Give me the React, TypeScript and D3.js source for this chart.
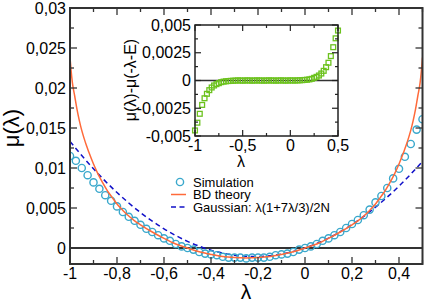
import * as d3 from "d3";

// simulation points (main panel)
const simLambda = [
  -1, -0.975, -0.95, -0.925, -0.9, -0.875, -0.85, -0.825, -0.8, -0.775,
  -0.75, -0.725, -0.7, -0.675, -0.65, -0.625, -0.6, -0.575, -0.55, -0.525,
  -0.5, -0.475, -0.45, -0.425, -0.4, -0.375, -0.35, -0.325, -0.3, -0.275,
  -0.25, -0.225, -0.2, -0.175, -0.15, -0.125, -0.1, -0.075, -0.05, -0.025,
  0, 0.025, 0.05, 0.075, 0.1, 0.125, 0.15, 0.175, 0.2, 0.225,
  0.25, 0.275, 0.3, 0.325, 0.35, 0.375, 0.4, 0.425, 0.45, 0.475, 0.5,
];
const simMu = [
  0.0115, 0.0109, 0.01, 0.0091, 0.0082, 0.0074, 0.0066, 0.0059, 0.0052, 0.0045,
  0.0039, 0.0034, 0.0029, 0.0024, 0.002, 0.0016, 0.0012, 0.0009, 0.0005, 0.0002,
  0.0, -0.0002, -0.0005, -0.0007, -0.0008, -0.0009, -0.0011, -0.0012, -0.0012, -0.0012,
  -0.0013, -0.0012, -0.0012, -0.0012, -0.0011, -0.0009, -0.0008, -0.0007, -0.0005, -0.0002,
  0.0, 0.0002, 0.0005, 0.0009, 0.0012, 0.0016, 0.002, 0.0025, 0.003, 0.0035,
  0.0041, 0.0048, 0.0057, 0.0065, 0.0075, 0.0087, 0.0099, 0.0114, 0.013, 0.0148, 0.0161,
];

// inset: mu(l) - mu(-l-E)
const diffMu = [
  -0.0045, -0.0038, -0.003, -0.0022, -0.0016, -0.0012, -0.00087, -0.00063, -0.00045, -0.00033,
  -0.00024, -0.00015, -0.0001, -0.00007, -0.00005, -0.00003, -0.00002, -0.00001, 0.00001, 0,
  -0.00001, 0, 0.00001, 0, -0.00001, 0, 0.00001, 0, 0, -0.00001,
  0, 0.00001, 0, 0, -0.00001, 0, 0.00001, 0, -0.00001, 0,
  0.00001, 0, 0, 0.00001, 0.00002, 0.00003, 0.00005, 0.00007, 0.0001, 0.00015,
  0.00024, 0.00033, 0.00045, 0.00063, 0.00087, 0.0012, 0.0016, 0.0022, 0.003, 0.0038, 0.0045,
];

// BD theory curve
const bdLambda = [
  -1, -0.995, -0.99, -0.98, -0.97, -0.96, -0.95, -0.94, -0.93, -0.92, -0.9, -0.88, -0.86,
  -0.84, -0.82, -0.8, -0.775, -0.75, -0.725, -0.7, -0.65, -0.6, -0.55, -0.5, -0.45, -0.4,
  -0.35, -0.3, -0.25, -0.2, -0.15, -0.1, -0.05, 0, 0.05, 0.1, 0.15, 0.2, 0.225, 0.25,
  0.275, 0.3, 0.32, 0.34, 0.36, 0.38, 0.4, 0.42, 0.43, 0.44, 0.45, 0.46, 0.47, 0.48,
  0.49, 0.495, 0.5,
];
const bdMu = [
  0.0238, 0.0221, 0.0207, 0.019, 0.0173, 0.0159, 0.0147, 0.0137, 0.0128, 0.012, 0.0105, 0.0092, 0.0081,
  0.0071, 0.0063, 0.0055, 0.0047, 0.004, 0.0034, 0.0029, 0.002, 0.0012, 0.0005, 0.0, -0.00047, -0.0008,
  -0.00107, -0.0012, -0.00125, -0.0012, -0.00107, -0.0008, -0.00047, 0.0, 0.0005, 0.0012, 0.002, 0.0029, 0.0034, 0.004,
  0.0047, 0.0055, 0.0063, 0.0071, 0.0081, 0.0092, 0.0105, 0.012, 0.0128, 0.0137, 0.0147, 0.0159, 0.0173, 0.019,
  0.0207, 0.0221, 0.0238,
];

// Gaussian approximation
const gaussLambda = [
  -1, -0.95, -0.9, -0.85, -0.8, -0.75, -0.7, -0.65, -0.6, -0.55, -0.5, -0.45, -0.4, -0.35, -0.3, -0.25,
  -0.2, -0.15, -0.1, -0.05, 0, 0.05, 0.1, 0.15, 0.2, 0.25, 0.3, 0.35, 0.4, 0.45, 0.5,
];
const gaussMu = [
  0.01333, 0.01156, 0.0099, 0.00836, 0.00693, 0.00563, 0.00443, 0.00336, 0.0024, 0.00156, 0.00083, 0.00023,
  -0.00027, -0.00064, -0.0009, -0.00104, -0.00107, -0.00098, -0.00077, -0.00044, 0, 0.00056, 0.00123,
  0.00203, 0.00293, 0.00396, 0.0051, 0.00636, 0.00773, 0.00923, 0.01083,
];

const xTicks = [-1, -0.8, -0.6, -0.4, -0.2, 0, 0.2, 0.4];
const xTickLabels = ["-1", "-0,8", "-0,6", "-0,4", "-0,2", "0", "0,2", "0,4"];
const xMinor = [-0.9, -0.7, -0.5, -0.3, -0.1, 0.1, 0.3, 0.5];
const yTicks = [0, 0.005, 0.01, 0.015, 0.02, 0.025, 0.03];
const yTickLabels = ["0", "0,005", "0,01", "0,015", "0,02", "0,025", "0,03"];
const yMinor = [0.0025, 0.0075, 0.0125, 0.0175, 0.0225, 0.0275];

const inXTicks = [-1, -0.5, 0, 0.5];
const inXTickLabels = ["-1", "-0,5", "0", "0,5"];
const inXMinor = [-0.75, -0.25, 0.25];
const inYTicks = [-0.005, -0.0025, 0, 0.0025, 0.005];
const inYTickLabels = ["-0,005", "-0,0025", "0", "0,0025", "0,005"];
const inYMinor = [-0.00375, -0.00125, 0.00125, 0.00375];

const FONT = "'Liberation Sans', Arial, Helvetica, sans-serif";
const FRAME = "#333";

export default function App() {
  const x = d3.scaleLinear().domain([-1, 0.5]).range([70, 422.5]);
  const y = d3.scaleLinear().domain([-0.002, 0.03]).range([264, 8]);
  const ix = d3.scaleLinear().domain([-1, 0.5]).range([195, 338]);
  const iy = d3.scaleLinear().domain([-0.005, 0.005]).range([136, 25]);

  const [x0, x1] = x.range();
  const [y0, y1] = y.range();
  const [ix0, ix1] = ix.range();
  const [iy0, iy1] = iy.range();

  const bdLine = d3
    .line<number>()
    .x((_, i) => x(bdLambda[i]))
    .y(d => y(d))
    .curve(d3.curveMonotoneX)(bdMu);
  const gaussLine = d3
    .line<number>()
    .x((_, i) => x(gaussLambda[i]))
    .y(d => y(d))
    .curve(d3.curveMonotoneX)(gaussMu);

  const MAJ = 7;
  const MIN = 4;
  const IMAJ = 6;
  const IMIN = 3;

  return (
    <svg width={425} height={304} style={{ position: "absolute", left: 0, top: 0, background: "#fff" }} fontFamily={FONT}>
      <defs>
        <clipPath id="plot">
          <rect x={x0} y={y1} width={x1 - x0} height={y0 - y1} />
        </clipPath>
      </defs>

      {/* zero line */}
      <line x1={x0} x2={x1} y1={y(0)} y2={y(0)} stroke={FRAME} strokeWidth={2} />

      <g clipPath="url(#plot)">
        <path d={gaussLine ?? ""} fill="none" stroke="#1010c8" strokeWidth={1.5} strokeDasharray="5,3.5" />
        {simLambda.map((l, i) => (
          <circle key={i} cx={x(l)} cy={y(simMu[i])} r={3.6} fill="none" stroke="#3aa8cc" strokeWidth={1.4} />
        ))}
        <path d={bdLine ?? ""} fill="none" stroke="#ff6a3a" strokeWidth={1.5} />
      </g>

      {/* main ticks */}
      {xTicks.map(t => (
        <g key={"xt" + t}>
          <line x1={x(t)} x2={x(t)} y1={y0} y2={y0 - MAJ} stroke={FRAME} strokeWidth={1.3} />
          <line x1={x(t)} x2={x(t)} y1={y1} y2={y1 + MAJ} stroke={FRAME} strokeWidth={1.3} />
        </g>
      ))}
      {xMinor.map(t => (
        <g key={"xm" + t}>
          <line x1={x(t)} x2={x(t)} y1={y0} y2={y0 - MIN} stroke={FRAME} strokeWidth={1.3} />
          <line x1={x(t)} x2={x(t)} y1={y1} y2={y1 + MIN} stroke={FRAME} strokeWidth={1.3} />
        </g>
      ))}
      {yTicks.map(t => (
        <g key={"yt" + t}>
          <line x1={x0} x2={x0 + MAJ} y1={y(t)} y2={y(t)} stroke={FRAME} strokeWidth={1.3} />
          <line x1={x1} x2={x1 - MAJ} y1={y(t)} y2={y(t)} stroke={FRAME} strokeWidth={1.3} />
        </g>
      ))}
      {yMinor.map(t => (
        <g key={"ym" + t}>
          <line x1={x0} x2={x0 + MIN} y1={y(t)} y2={y(t)} stroke={FRAME} strokeWidth={1.3} />
          <line x1={x1} x2={x1 - MIN} y1={y(t)} y2={y(t)} stroke={FRAME} strokeWidth={1.3} />
        </g>
      ))}
      <rect x={x0} y={y1} width={x1 - x0} height={y0 - y1} fill="none" stroke={FRAME} strokeWidth={2} />

      {xTicks.map((t, i) => (
        <text key={"xl" + t} x={x(t)} y={279} fontSize={16} textAnchor="middle" fill="#000">
          {xTickLabels[i]}
        </text>
      ))}
      {yTicks.map((t, i) => (
        <text key={"yl" + t} x={66} y={y(t) + 5.5} fontSize={16} textAnchor="end" fill="#000">
          {yTickLabels[i]}
        </text>
      ))}
      <text x={246} y={299} fontSize={21} textAnchor="middle" fill="#000">λ</text>
      <text transform="translate(19,128) rotate(-90)" fontSize={22} textAnchor="middle" fill="#000">μ(λ)</text>

      {/* legend */}
      <circle cx={180} cy={182} r={3.6} fill="none" stroke="#3aa8cc" strokeWidth={1.4} />
      <text x={193} y={186.5} fontSize={13} fill="#000">Simulation</text>
      <line x1={171} x2={186} y1={194.5} y2={194.5} stroke="#ff6a3a" strokeWidth={1.5} />
      <text x={193} y={199} fontSize={13} fill="#000">BD theory</text>
      <line x1={171} x2={186} y1={207} y2={207} stroke="#1010c8" strokeWidth={1.5} strokeDasharray="5,3.5" />
      <text x={193} y={211.5} fontSize={13} fill="#000">Gaussian: λ(1+7λ/3)/2N</text>

      {/* inset */}
      <rect x={ix0} y={iy1} width={ix1 - ix0} height={iy0 - iy1} fill="#fff" />
      <line x1={ix0} x2={ix1} y1={iy(0)} y2={iy(0)} stroke={FRAME} strokeWidth={1.6} />
      {simLambda.map((l, i) => (
        <rect key={"sq" + i} x={ix(l) - 2.4} y={iy(diffMu[i]) - 2.4} width={4.8} height={4.8} fill="none" stroke="#6cc21e" strokeWidth={1.3} />
      ))}
      {inXTicks.map(t => (
        <g key={"ixt" + t}>
          <line x1={ix(t)} x2={ix(t)} y1={iy0} y2={iy0 - IMAJ} stroke="#222" strokeWidth={1.2} />
          <line x1={ix(t)} x2={ix(t)} y1={iy1} y2={iy1 + IMAJ} stroke="#222" strokeWidth={1.2} />
        </g>
      ))}
      {inXMinor.map(t => (
        <g key={"ixm" + t}>
          <line x1={ix(t)} x2={ix(t)} y1={iy0} y2={iy0 - IMIN} stroke="#222" strokeWidth={1.2} />
          <line x1={ix(t)} x2={ix(t)} y1={iy1} y2={iy1 + IMIN} stroke="#222" strokeWidth={1.2} />
        </g>
      ))}
      {inYTicks.map(t => (
        <g key={"iyt" + t}>
          <line x1={ix0} x2={ix0 + IMAJ} y1={iy(t)} y2={iy(t)} stroke="#222" strokeWidth={1.2} />
          <line x1={ix1} x2={ix1 - IMAJ} y1={iy(t)} y2={iy(t)} stroke="#222" strokeWidth={1.2} />
        </g>
      ))}
      {inYMinor.map(t => (
        <g key={"iym" + t}>
          <line x1={ix0} x2={ix0 + IMIN} y1={iy(t)} y2={iy(t)} stroke="#222" strokeWidth={1.2} />
          <line x1={ix1} x2={ix1 - IMIN} y1={iy(t)} y2={iy(t)} stroke="#222" strokeWidth={1.2} />
        </g>
      ))}
      <rect x={ix0} y={iy1} width={ix1 - ix0} height={iy0 - iy1} fill="none" stroke="#222" strokeWidth={1.5} />
      {inXTicks.map((t, i) => (
        <text key={"ixl" + t} x={ix(t)} y={151} fontSize={16} textAnchor="middle" fill="#000">
          {inXTickLabels[i]}
        </text>
      ))}
      {inYTicks.map((t, i) => (
        <text key={"iyl" + t} x={191} y={iy(t) + 5.5} fontSize={16} textAnchor="end" fill="#000">
          {inYTickLabels[i]}
        </text>
      ))}
      <text x={241} y={167} fontSize={16} textAnchor="middle" fill="#000">λ</text>
      <text transform="translate(136,80) rotate(-90)" fontSize={16} textAnchor="middle" fill="#000">μ(λ)-μ(-λ-E)</text>
    </svg>
  );
}
